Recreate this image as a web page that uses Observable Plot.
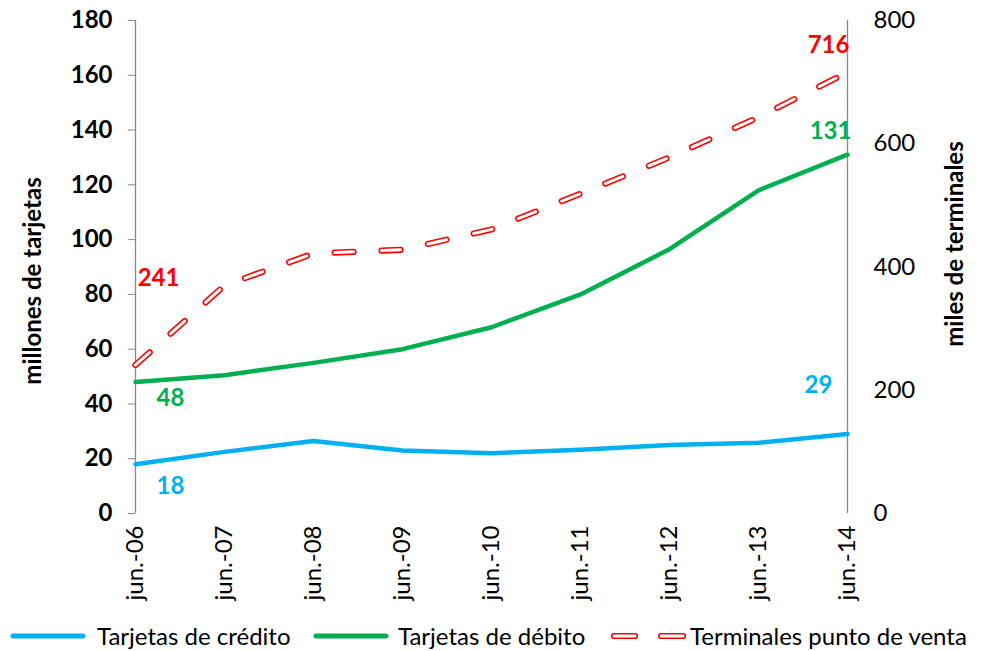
<!DOCTYPE html>
<html><head><meta charset="utf-8">
<script src="https://cdn.jsdelivr.net/npm/d3@7"></script>
<script src="https://cdn.jsdelivr.net/npm/@observablehq/plot@0.6"></script>
<style>
body{margin:0;background:#fff;font-family:Lato,"Open Sans",sans-serif;}
#chart{position:relative;width:990px;height:651px;}
#legend{position:absolute;left:0;top:621px;width:990px;height:30px;font-size:24px;color:#000;white-space:nowrap;}
#legend .it{position:absolute;top:0;line-height:30px;}
#legend svg{position:absolute;top:8px;}
</style></head>
<body><div id="chart"></div>
<script>
const periods = ["jun.-06","jun.-07","jun.-08","jun.-09","jun.-10","jun.-11","jun.-12","jun.-13","jun.-14"];
const credito = [18, 22.5, 26.5, 23, 22, 23.3, 25, 25.8, 29];
const debito = [48, 50.5, 55, 60, 68, 80, 96.5, 118, 131];
const terminales = [241, 370, 422, 428, 461, 519, 578, 643, 716];
const leftTicks = [0,20,40,60,80,100,120,140,160,180];
const rightTicks = [0,200,400,600,800];
const seriesNames = ["Tarjetas de crédito","Tarjetas de débito","Terminales punto de venta"];
const colors = ["#00B0F0","#00B050","#FF0000"];

const k = 180/800;
const rows = (vals) => periods.map((p,i)=>({p, v: vals[i]}));
const cr = rows(credito), db = rows(debito), tm = rows(terminales.map(v=>v*k));
const dash = "19,28";
const last = periods.length-1;

const lab = (p, v, t, c, dx, dy) => Plot.text([{p, v, t}], {x: "p", y: "v", text: "t", fill: c, dx, dy, fontWeight: "bold", fontSize: 24});

const font = "Lato, 'Open Sans', sans-serif";
const plot = Plot.plot({
  width: 990, height: 615,
  marginLeft: 135, marginRight: 143, marginTop: 20, marginBottom: 102,
  style: {fontFamily: font, fontSize: "24px", color: "#000", background: "#fff"},
  x: {type: "point", domain: periods, padding: 0},
  y: {domain: [0, 180]},
  marks: [
    Plot.ruleY([0], {stroke: "#888", strokeWidth: 1.3, x1: periods[0], x2: periods[last]}),
    Plot.axisY({anchor: "left", ticks: leftTicks, tickSize: 7, tickPadding: 16, stroke: "#888", fontWeight: "bold", fontSize: 24, label: null}),
    Plot.ruleX([periods[0]], {y1: 0, y2: 180, stroke: "#888", strokeWidth: 1.3}),
    Plot.ruleX([periods[last]], {y1: 0, y2: 180, stroke: "#888", strokeWidth: 1.3}),
    Plot.axisY({anchor: "right", ticks: rightTicks.map(v=>v*k), tickFormat: d => String(Math.round(d/k)), tickSize: 0, tickPadding: 26, fontSize: 24, label: null}),
    Plot.axisX({tickRotate: -90, tickSize: 0, tickPadding: 12, fontSize: 24, label: null}),
    Plot.text(["millones de tarjetas"], {frameAnchor: "left", textAnchor: "middle", dx: -102, dy: 14, rotate: -90, text: d=>d, fontWeight: "bold", fontSize: 24}),
    Plot.text(["miles de terminales"], {frameAnchor: "right", textAnchor: "middle", dx: 108, dy: -23, rotate: -90, text: d=>d, fontWeight: "bold", fontSize: 24}),
    Plot.line(cr, {x: "p", y: "v", stroke: colors[0], strokeWidth: 4.5}),
    Plot.line(db, {x: "p", y: "v", stroke: colors[1], strokeWidth: 4.5}),
    Plot.line(tm, {x: "p", y: "v", stroke: colors[2], strokeWidth: 6.2, strokeDasharray: dash, strokeLinecap: "round"}),
    Plot.line(tm, {x: "p", y: "v", stroke: "#fff", strokeWidth: 3, strokeDasharray: dash, strokeLinecap: "round"}),
    lab(periods[0], terminales[0]*k, String(terminales[0]), colors[2], 23, -87),
    lab(periods[0], debito[0], String(debito[0]), colors[1], 35, 16),
    lab(periods[0], credito[0], String(credito[0]), colors[0], 35, 22),
    lab(periods[last], terminales[last]*k, String(terminales[last]), colors[2], -19, -27),
    lab(periods[last], debito[last], String(debito[last]), colors[1], -17, -23),
    lab(periods[last], credito[last], String(credito[last]), colors[0], -29, -49)
  ]
});
document.getElementById("chart").appendChild(plot);

// legend
const lg = document.createElement("div"); lg.id = "legend";
const dashSw = (x1, x2) => `<line x1="${x1}" x2="${x2}" y1="7" y2="7" stroke="${colors[2]}" stroke-width="6.2" stroke-linecap="round"/><line x1="${x1}" x2="${x2}" y1="7" y2="7" stroke="#fff" stroke-width="3" stroke-linecap="round"/>`;
const items = [
  {sx: 10, sw: 80, s: `<line x1="3" x2="73" y1="7" y2="7" stroke="${colors[0]}" stroke-width="5" stroke-linecap="round"/>`, tx: 97, t: seriesNames[0]},
  {sx: 313, sw: 80, s: `<line x1="3" x2="73" y1="7" y2="7" stroke="${colors[1]}" stroke-width="5" stroke-linecap="round"/>`, tx: 398, t: seriesNames[1]},
  {sx: 608, sw: 80, s: dashSw(6, 27) + dashSw(53, 75), tx: 690, t: seriesNames[2]}
];
lg.innerHTML = items.map(it => `<svg width="${it.sw}" height="14" style="left:${it.sx}px">${it.s}</svg><span class="it" style="left:${it.tx}px">${it.t}</span>`).join("");
document.getElementById("chart").appendChild(lg);
</script>
</body></html>
